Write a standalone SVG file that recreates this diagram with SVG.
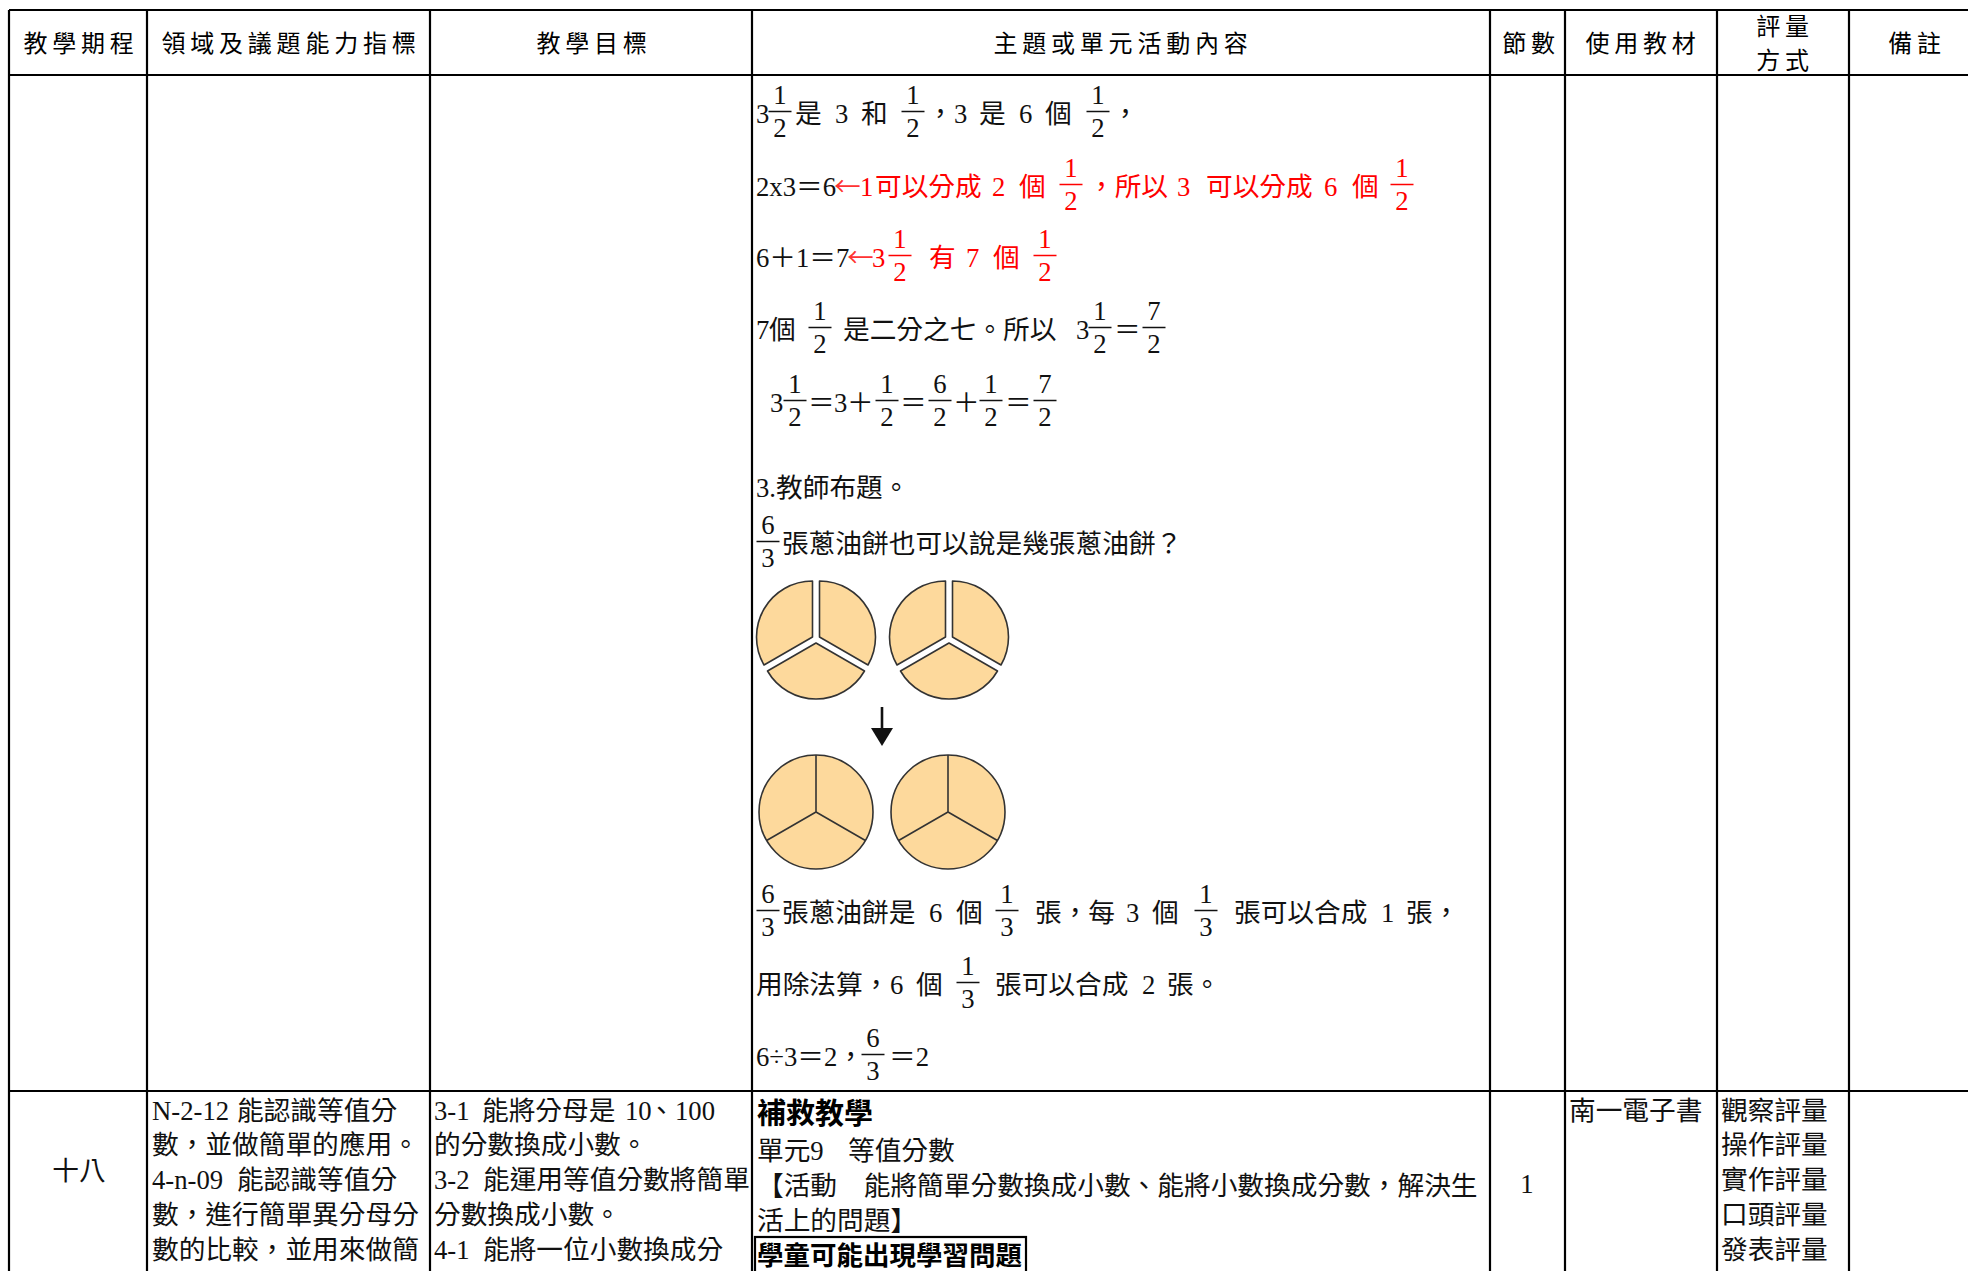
<svg xmlns="http://www.w3.org/2000/svg" width="1968" height="1271" viewBox="0 0 1968 1271">
<style>
.grid{stroke:#000;stroke-width:2.2;fill:none}
.h{font-family:"Noto Sans CJK TC","Noto Sans CJK SC",sans-serif;font-size:24px;letter-spacing:4.8px;fill:#000;text-anchor:middle}
.t{font-family:"Liberation Serif","Noto Sans CJK TC",serif;font-size:26.7px;fill:#111}
.m{text-anchor:middle}
.r{fill:#ff0000}
.ar{font-family:"Noto Sans CJK TC",sans-serif;fill:#ff3333}
.bar{stroke:#111;stroke-width:1.5;fill:none}
.rbar{stroke:#ff0000;stroke-width:1.5;fill:none}
.pie{fill:#fdd99c;stroke:#333;stroke-width:1.6;stroke-linejoin:round}
.b{font-family:"Noto Sans CJK TC",sans-serif;font-weight:700;fill:#000}
</style>
<rect width="1968" height="1271" fill="#fff"/>

<g id="grid" class="grid">
<path d="M9 10H1968M9 75H1968M9 1091H1968"/>
<path d="M9 10V1271M147 10V1271M430 10V1271M752 10V1271M1490 10V1271M1565 10V1271M1717 10V1271M1849 10V1271"/>
</g>

<g id="header">
<text class="h" x="81" y="52">教學期程</text>
<text class="h" x="291" y="52">領域及議題能力指標</text>
<text class="h" x="594" y="52">教學目標</text>
<text class="h" x="1123" y="52">主題或單元活動內容</text>
<text class="h" x="1531" y="52">節數</text>
<text class="h" x="1643" y="52">使用教材</text>
<text class="h" x="1785" y="35">評量</text>
<text class="h" x="1785" y="69">方式</text>
<text class="h" x="1917" y="52">備註</text>
</g>

<g id="content-row1">
<!-- line 1 -->
<text class="t" y="123"><tspan x="756">3</tspan><tspan x="795">是</tspan><tspan x="835">3</tspan><tspan x="861">和</tspan><tspan x="927">，</tspan><tspan x="954">3</tspan><tspan x="979">是</tspan><tspan x="1019">6</tspan><tspan x="1045">個</tspan><tspan x="1112">，</tspan></text>
<text class="t m" y="104"><tspan x="780">1</tspan><tspan x="913">1</tspan><tspan x="1098">1</tspan></text>
<text class="t m" y="137"><tspan x="780">2</tspan><tspan x="913">2</tspan><tspan x="1098">2</tspan></text>
<path class="bar" d="M768.5 111.5h23M901.5 111.5h23M1086.5 111.5h23"/>

<!-- line 2 -->
<text class="t" y="196"><tspan x="756">2x3＝6</tspan><tspan class="ar" x="834">←</tspan><tspan class="r" x="860">1</tspan><tspan class="r" x="875">可以分成</tspan><tspan class="r" x="992">2</tspan><tspan class="r" x="1019">個</tspan><tspan class="r" x="1088">，所以</tspan><tspan class="r" x="1177">3</tspan><tspan class="r" x="1206">可以分成</tspan><tspan class="r" x="1324">6</tspan><tspan class="r" x="1352">個</tspan></text>
<text class="t m r" y="177"><tspan x="1071">1</tspan><tspan x="1402">1</tspan></text>
<text class="t m r" y="210"><tspan x="1071">2</tspan><tspan x="1402">2</tspan></text>
<path class="rbar" d="M1059.5 184.5h23M1390.5 184.5h23"/>

<!-- line 3 -->
<text class="t" y="267"><tspan x="756">6＋1＝7</tspan><tspan class="ar" x="847">←</tspan><tspan class="r" x="872">3</tspan><tspan class="r" x="929">有</tspan><tspan class="r" x="966">7</tspan><tspan class="r" x="993">個</tspan></text>
<text class="t m r" y="248"><tspan x="900">1</tspan><tspan x="1045">1</tspan></text>
<text class="t m r" y="281"><tspan x="900">2</tspan><tspan x="1045">2</tspan></text>
<path class="rbar" d="M888.5 255.5h23M1033.5 255.5h23"/>

<!-- line 4 -->
<text class="t" y="339"><tspan x="756">7</tspan><tspan x="769">個</tspan><tspan x="843">是二分之七。所以</tspan><tspan x="1076">3</tspan><tspan x="1114">＝</tspan></text>
<text class="t m" y="320"><tspan x="820">1</tspan><tspan x="1100">1</tspan><tspan x="1154">7</tspan></text>
<text class="t m" y="353"><tspan x="820">2</tspan><tspan x="1100">2</tspan><tspan x="1154">2</tspan></text>
<path class="bar" d="M808.5 327.5h23M1088.5 327.5h23M1142.5 327.5h23"/>

<!-- line 5 -->
<text class="t" y="412"><tspan x="770">3</tspan><tspan x="808">＝</tspan><tspan x="834">3</tspan><tspan x="847">＋</tspan><tspan x="900">＝</tspan><tspan x="953">＋</tspan><tspan x="1005">＝</tspan></text>
<text class="t m" y="393"><tspan x="795">1</tspan><tspan x="887">1</tspan><tspan x="940">6</tspan><tspan x="991">1</tspan><tspan x="1045">7</tspan></text>
<text class="t m" y="426"><tspan x="795">2</tspan><tspan x="887">2</tspan><tspan x="940">2</tspan><tspan x="991">2</tspan><tspan x="1045">2</tspan></text>
<path class="bar" d="M783.5 400.5h23M875.5 400.5h23M928.5 400.5h23M979.5 400.5h23M1033.5 400.5h23"/>

<!-- line 6 -->
<text class="t" x="756" y="497">3.教師布題。</text>

<!-- line 7 -->
<text class="t" x="782" y="553">張蔥油餅也可以說是幾張蔥油餅？</text>
<text class="t m" x="768" y="534">6</text>
<text class="t m" x="768" y="567">3</text>
<path class="bar" d="M756.5 541.5h23"/>

<!-- pies -->
<g id="pie-top-1" transform="translate(816,639)">
<path class="pie" transform="translate(3.5,-2)" d="M0 0L0 -56A56 56 0 0 1 48.5 28Z"/>
<path class="pie" transform="translate(0,4)" d="M0 0L48.5 28A56 56 0 0 1 -48.5 28Z"/>
<path class="pie" transform="translate(-3.5,-2)" d="M0 0L-48.5 28A56 56 0 0 1 0 -56Z"/>
</g>
<g id="pie-top-2" transform="translate(949,639)">
<path class="pie" transform="translate(3.5,-2)" d="M0 0L0 -56A56 56 0 0 1 48.5 28Z"/>
<path class="pie" transform="translate(0,4)" d="M0 0L48.5 28A56 56 0 0 1 -48.5 28Z"/>
<path class="pie" transform="translate(-3.5,-2)" d="M0 0L-48.5 28A56 56 0 0 1 0 -56Z"/>
</g>
<g id="arrow">
<path d="M882 707V731" stroke="#111" stroke-width="2.6"/>
<path d="M871 728H893L882 746Z" fill="#111"/>
</g>
<g id="pie-bottom-1" transform="translate(816,812)">
<circle class="pie" r="57"/>
<path d="M0 0V-57M0 0L49.4 28.5M0 0L-49.4 28.5" stroke="#333" stroke-width="1.6" fill="none"/>
</g>
<g id="pie-bottom-2" transform="translate(948,812)">
<circle class="pie" r="57"/>
<path d="M0 0V-57M0 0L49.4 28.5M0 0L-49.4 28.5" stroke="#333" stroke-width="1.6" fill="none"/>
</g>

<!-- line 8 -->
<text class="t" y="922"><tspan x="782">張蔥油餅是</tspan><tspan x="929">6</tspan><tspan x="956">個</tspan><tspan x="1035">張，每</tspan><tspan x="1126">3</tspan><tspan x="1152">個</tspan><tspan x="1234">張可以合成</tspan><tspan x="1381">1</tspan><tspan x="1406">張，</tspan></text>
<text class="t m" y="903"><tspan x="768">6</tspan><tspan x="1007">1</tspan><tspan x="1206">1</tspan></text>
<text class="t m" y="936"><tspan x="768">3</tspan><tspan x="1007">3</tspan><tspan x="1206">3</tspan></text>
<path class="bar" d="M756.5 910.5h23M995.5 910.5h23M1194.5 910.5h23"/>

<!-- line 9 -->
<text class="t" y="994"><tspan x="756">用除法算，</tspan><tspan x="890">6</tspan><tspan x="916">個</tspan><tspan x="995">張可以合成</tspan><tspan x="1142">2</tspan><tspan x="1167">張。</tspan></text>
<text class="t m" x="968" y="975">1</text>
<text class="t m" x="968" y="1008">3</text>
<path class="bar" d="M956.5 982.5h23"/>

<!-- line 10 -->
<text class="t" y="1066"><tspan x="756">6÷3＝2，</tspan><tspan x="889">＝2</tspan></text>
<text class="t m" x="873" y="1047">6</text>
<text class="t m" x="873" y="1080">3</text>
<path class="bar" d="M861.5 1054.5h23"/>
</g>

<g id="row-18">
<text class="t m" x="79" y="1180">十八</text>
<g id="indicators">
<text class="t" y="1119.5"><tspan x="152">N-2-12</tspan><tspan x="237">能認識等值分</tspan></text>
<text class="t" x="152" y="1154.4">數，並做簡單的應用。</text>
<text class="t" y="1189.3"><tspan x="152">4-n-09</tspan><tspan x="237">能認識等值分</tspan></text>
<text class="t" x="152" y="1224.2">數，進行簡單異分母分</text>
<text class="t" x="152" y="1259.1">數的比較，並用來做簡</text>
</g>
<g id="objectives">
<text class="t" y="1119.5"><tspan x="434">3-1</tspan><tspan x="482">能將分母是</tspan><tspan x="625">10</tspan><tspan x="648">、</tspan><tspan x="675">100</tspan></text>
<text class="t" x="434" y="1154.4">的分數換成小數。</text>
<text class="t" y="1189.3"><tspan x="434">3-2</tspan><tspan x="483">能運用等值分數將簡單</tspan></text>
<text class="t" x="434" y="1224.2">分數換成小數。</text>
<text class="t" y="1259.1"><tspan x="434">4-1</tspan><tspan x="483">能將一位小數換成分</tspan></text>
</g>
<g id="activity">
<text class="b" x="757" y="1124" font-size="29">補救教學</text>
<text class="t" y="1160"><tspan x="757">單元9</tspan><tspan x="848">等值分數</tspan></text>
<text class="t" x="757" y="1195">【活動　能將簡單分數換成小數、能將小數換成分數，解決生</text>
<text class="t" x="757" y="1230">活上的問題】</text>
<rect x="755" y="1237" width="271" height="40" fill="none" stroke="#000" stroke-width="2.2"/>
<text class="b" x="757" y="1265" font-size="26.5">學童可能出現學習問題</text>
</g>
<text id="periods" class="t m" x="1527" y="1193">1</text>
<text id="material" class="t" x="1569" y="1119.5">南一電子書</text>
<g id="assessment">
<text class="t" x="1721" y="1119.5">觀察評量</text>
<text class="t" x="1721" y="1154.4">操作評量</text>
<text class="t" x="1721" y="1189.3">實作評量</text>
<text class="t" x="1721" y="1224.2">口頭評量</text>
<text class="t" x="1721" y="1259.1">發表評量</text>
</g>
</g>
</svg>
